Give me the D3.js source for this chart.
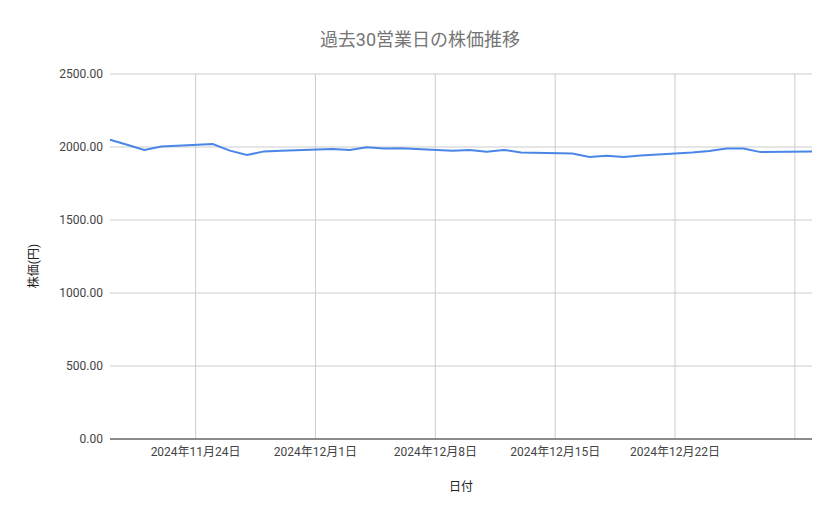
<!DOCTYPE html>
<html><head><meta charset="utf-8">
<script src="https://cdn.jsdelivr.net/npm/d3@7"></script>
<style>body{margin:0;background:#fff}</style></head>
<body><svg id="chart" width="839" height="519"></svg>
<script>
var dates = ['2024-11-19','2024-11-20','2024-11-21','2024-11-22','2024-11-25','2024-11-26','2024-11-27','2024-11-28','2024-11-29',
  '2024-12-02','2024-12-03','2024-12-04','2024-12-05','2024-12-06','2024-12-09','2024-12-10','2024-12-11','2024-12-12','2024-12-13',
  '2024-12-16','2024-12-17','2024-12-18','2024-12-19','2024-12-20','2024-12-23','2024-12-24','2024-12-25','2024-12-26','2024-12-27','2024-12-30'];
var prices = [2050,2015,1980,2003,2020,1975,1945,1970,1975,
  1987,1980,1998,1990,1992,1975,1980,1968,1980,1963,
  1955,1932,1940,1932,1942,1962,1972,1990,1990,1965,1970];
var yTicks = [0,500,1000,1500,2000,2500];
var xTicks = ['2024-11-24','2024-12-01','2024-12-08','2024-12-15','2024-12-22','2024-12-29'];
var xLabels = ['2024年11月24日','2024年12月1日','2024年12月8日','2024年12月15日','2024年12月22日',''];

var svg = d3.select('#chart');
var font = 'Roboto, "Noto Sans CJK JP", sans-serif';
var parse = d3.utcParse('%Y-%m-%d');
var plotLeft = 110, plotRight = 812, plotTop = 74, plotBottom = 439;

var x = d3.scaleUtc().domain([parse('2024-11-19'), parse('2024-12-30')]).range([plotLeft, plotRight]);
var y = d3.scaleLinear().domain([0, 2500]).range([plotBottom, plotTop]);

svg.selectAll('.hgrid').data(yTicks).enter().append('line')
  .attr('x1', plotLeft).attr('x2', plotRight)
  .attr('y1', function(d) { return y(d); }).attr('y2', function(d) { return y(d); })
  .attr('stroke', '#cccccc');

svg.selectAll('.vgrid').data(xTicks).enter().append('line')
  .attr('x1', function(d) { return x(parse(d)); }).attr('x2', function(d) { return x(parse(d)); })
  .attr('y1', plotTop).attr('y2', plotBottom)
  .attr('stroke', '#cccccc');

svg.selectAll('.ylab').data(yTicks).enter().append('text')
  .attr('x', 103).attr('y', function(d) { return y(d) + 4; })
  .style('text-anchor', 'end').style('font-family', font).style('font-size', '12px').style('fill', '#444')
  .text(function(d) { return d3.format('.2f')(d); });

svg.selectAll('.xlab').data(xTicks).enter().append('text')
  .attr('x', function(d) { return x(parse(d)); }).attr('y', 456)
  .style('text-anchor', 'middle').style('font-family', font).style('font-size', '12px').style('fill', '#444')
  .text(function(d, i) { return xLabels[i]; });

svg.append('line').attr('x1', plotLeft).attr('x2', plotRight).attr('y1', plotBottom).attr('y2', plotBottom)
  .attr('stroke', '#333').attr('stroke-width', 1.2);

var line = d3.line()
  .x(function(d, i) { return x(parse(dates[i])); })
  .y(function(d) { return y(d); });

svg.append('path').datum(prices).attr('d', line)
  .attr('fill', 'none').attr('stroke', '#4a86e8').attr('stroke-width', 2);

svg.append('text').attr('x', 420).attr('y', 46)
  .style('text-anchor', 'middle').style('font-family', font).style('font-size', '18px').style('fill', '#757575')
  .text('過去30営業日の株価推移');

svg.append('text').attr('x', 461).attr('y', 491)
  .style('text-anchor', 'middle').style('font-family', font).style('font-size', '12px').style('fill', '#222')
  .text('日付');

svg.append('text').attr('transform', 'translate(38,266) rotate(-90)')
  .style('text-anchor', 'middle').style('font-family', font).style('font-size', '12px').style('fill', '#222')
  .text('株価(円)');
</script></body></html>
